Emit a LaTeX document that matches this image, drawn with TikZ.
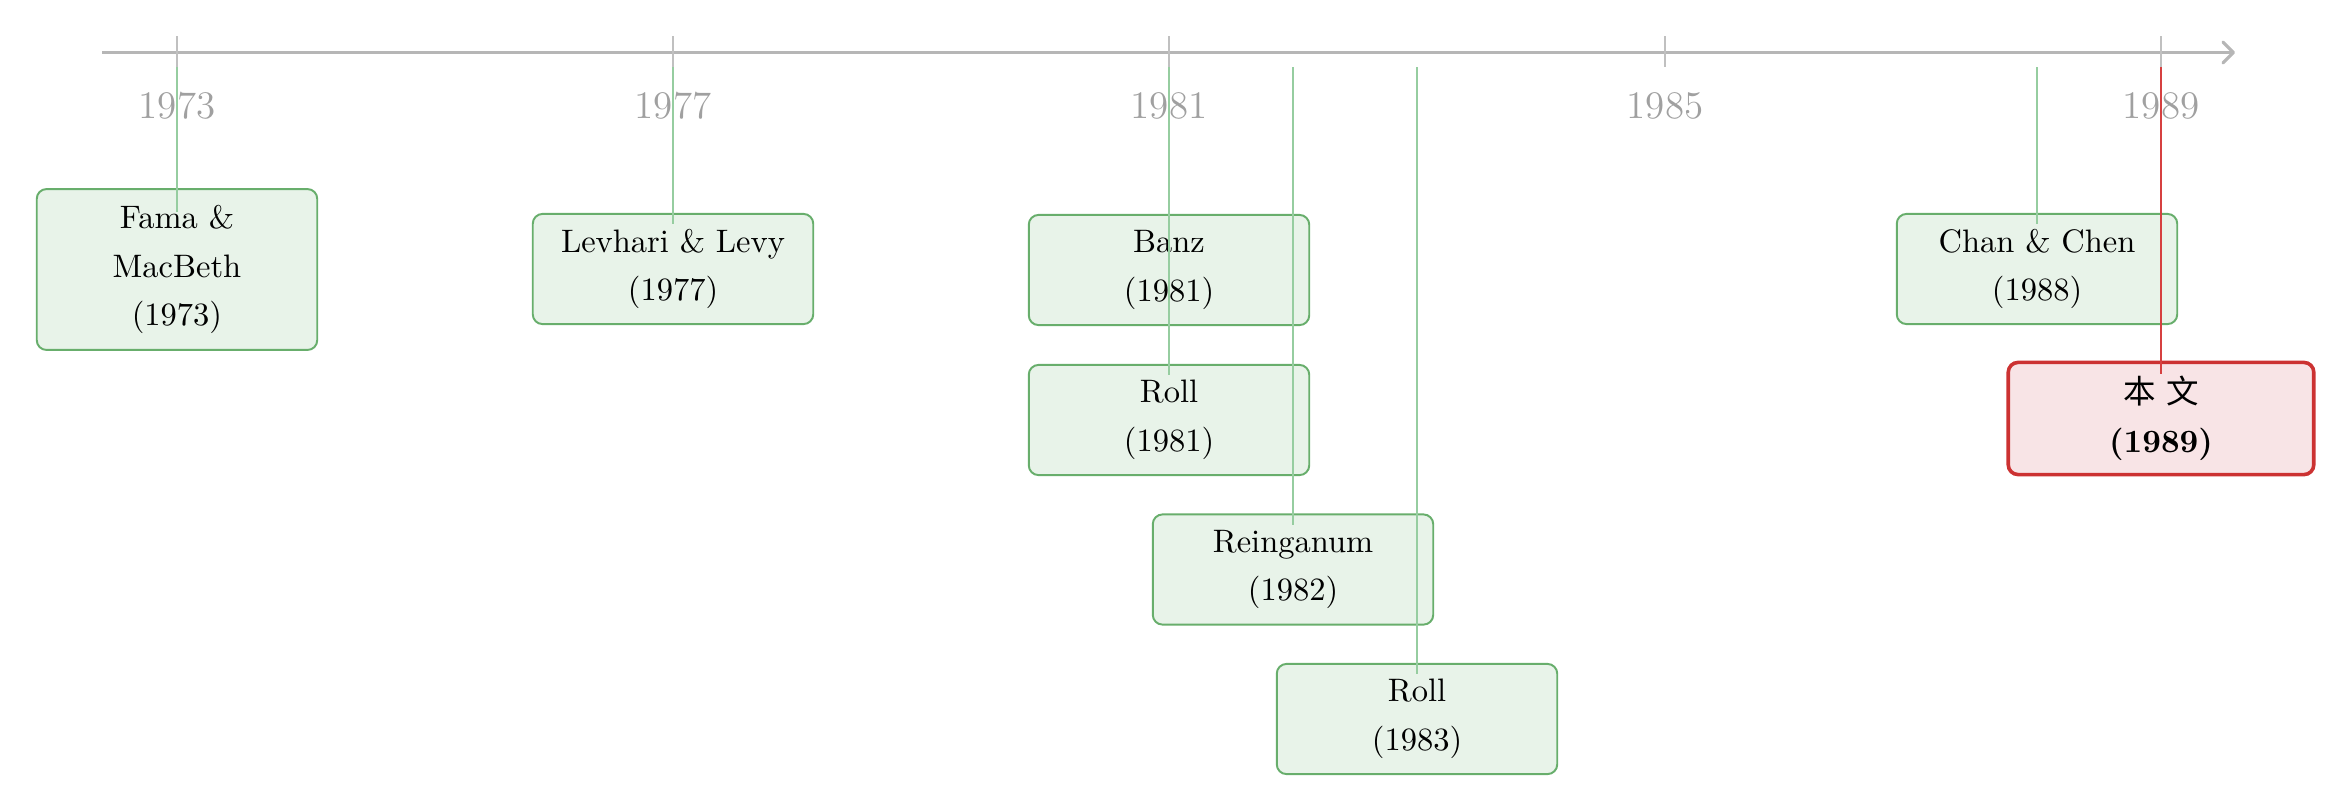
\documentclass[tikz,border=0pt]{standalone}
\usepackage{fontspec}
\usetikzlibrary{arrows.meta,calc}
\newfontfamily\cjk{Noto Sans CJK SC}
\definecolor{boxfill}{RGB}{232,243,233}
\definecolor{boxdraw}{RGB}{104,174,108}
\definecolor{linkgreen}{RGB}{150,205,160}
\definecolor{redfill}{RGB}{248,228,230}
\definecolor{reddraw}{RGB}{204,50,50}
\definecolor{redline}{RGB}{214,64,64}
\definecolor{axisgray}{RGB}{182,182,182}
\definecolor{tickgray}{RGB}{192,192,192}
\definecolor{labelgray}{RGB}{160,160,160}
\begin{document}
\begin{tikzpicture}[x=0.3077pt,y=-0.3077pt,
  axisline/.style={draw=axisgray,line width=1pt,-{Straight Barb[length=3.2pt,width=6.4pt,round]}},
  tickline/.style={draw=tickgray,line width=0.6pt},
  yearlabel/.style={text=labelgray,font=\large,inner sep=0pt},
  evbox/.style={draw=boxdraw,fill=boxfill,line width=0.6pt,rounded corners=3pt,
    align=center,text width=80pt,minimum width=86.3pt,minimum height=33.9pt,
    inner xsep=0pt,inner ysep=2pt,font=\fontsize{10}{15}\selectfont},
  ourbox/.style={evbox,draw=reddraw,fill=redfill,line width=1.1pt,
    minimum width=94pt,minimum height=34.5pt,font=\fontsize{10}{15}\selectfont\bfseries},
  link/.style={draw=linkgreen,line width=0.45pt},
  ourlink/.style={draw=redline,line width=0.5pt}]
\useasboundingbox (0,0) rectangle (2352,811);

% axis
\coordinate (axL) at (102,52.5);
\coordinate (axR) at (2235,52.5);
\draw[axisline] (axL) -- (axR);

% ticks and year labels
\foreach \yr in {1973,1977,1981,1985,1989}{
  \pgfmathsetmacro{\xx}{177+124*(\yr-1973)}
  \draw[tickline] (\xx,36) -- (\xx,67);
  \node[yearlabel] (lab\yr) at (\xx,106) {\yr};
}

% event boxes
\node[evbox,minimum height=49.5pt] (fama) at (177,269.5) {Fama \&\\MacBeth\\(1973)};
\node[evbox] (levhari) at (673,269) {Levhari \& Levy\\(1977)};
\node[evbox] (banz) at (1169,270) {Banz\\(1981)};
\node[evbox] (rollA) at (1169,420) {Roll\\(1981)};
\node[evbox] (rein) at (1293,569.5) {Reinganum\\(1982)};
\node[evbox] (rollB) at (1417,719) {Roll\\(1983)};
\node[evbox] (chan) at (2037,269) {Chan \& Chen\\(1988)};
\node[ourbox] (ours) at (2161,418.5) {{\cjk\mdseries 本 文}\\(1989)};

% start points on the axis
\coordinate (sFama) at (177,67);
\coordinate (sLevhari) at (673,67);
\coordinate (sBanz) at (1169,67);
\coordinate (sRollA) at (1169,67);
\coordinate (sRein) at (1293,67);
\coordinate (sRollB) at (1417,67);
\coordinate (sChan) at (2037,67);
\coordinate (sOurs) at (2161,67);

% end points inside the boxes
\coordinate (eFama) at ($(fama.north)+(0,24)$);
\coordinate (eLevhari) at ($(levhari.north)+(0,11.5)$);
\coordinate (eBanz) at ($(banz.north)+(0,11.5)$);
\coordinate (eRollA) at ($(rollA.north)+(0,11.5)$);
\coordinate (eRein) at ($(rein.north)+(0,11.5)$);
\coordinate (eRollB) at ($(rollB.north)+(0,11.5)$);
\coordinate (eChan) at ($(chan.north)+(0,11.5)$);
\coordinate (eOurs) at ($(ours.north)+(0,13)$);

% connectors
\draw[link] (sFama) -- (eFama);
\draw[link] (sLevhari) -- (eLevhari);
\draw[link] (sBanz) -- (eBanz);
\draw[link] (sRollA) -- (eRollA);
\draw[link] (sRein) -- (eRein);
\draw[link] (sRollB) -- (eRollB);
\draw[link] (sChan) -- (eChan);
\draw[ourlink] (sOurs) -- (eOurs);
\end{tikzpicture}
\end{document}
